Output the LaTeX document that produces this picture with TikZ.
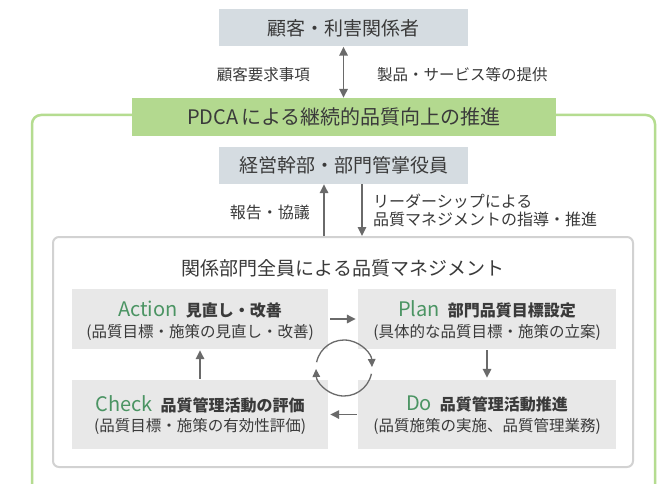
\documentclass[tikz,border=0pt]{standalone}
\usepackage{fontspec}
\setmainfont{Noto Sans CJK JP}
\usetikzlibrary{arrows.meta,calc}
\definecolor{txt}{HTML}{3A3A3A}
\definecolor{topgray}{HTML}{D5DCE1}
\definecolor{boxgray}{HTML}{E8E8E8}
\definecolor{bandgreen}{HTML}{B3D98F}
\definecolor{linegreen}{HTML}{B5DC90}
\definecolor{innerline}{HTML}{D2D2D2}
\definecolor{arrowgray}{HTML}{6A6A6A}
\definecolor{pdcagreen}{HTML}{4B9463}
\newcommand{\myfs}[1]{\fontsize{#1pt}{#1pt}\selectfont}
\newcommand{\pgr}[1]{{\color{pdcagreen}\myfs{20}#1}}
\newcommand{\bttl}[1]{{\bfseries\myfs{16}#1}}
\begin{document}
\begin{tikzpicture}[x=1pt,y=-1pt,
  lbl/.style={text=txt, inner sep=0pt},
  greybox/.style={fill=topgray, minimum width=249pt, minimum height=37pt, inner sep=0pt, text=txt, font=\myfs{19}},
  pbox/.style={fill=boxgray, minimum width=256pt, inner sep=0pt},
  subt/.style={lbl, font=\myfs{15.5}},
  arr/.style={draw=arrowgray, line width=1.6pt, -{Triangle[length=9pt,width=8.5pt]}},
  carr/.style={draw=arrowgray, line width=1.3pt, -{Triangle[length=8pt,width=7.5pt]}}]
\useasboundingbox (0,0) rectangle (669,484);
\fill[white] (0,0) rectangle (669,484);
% green outline
\draw[linegreen, line width=2.5pt, rounded corners=9pt] (32,484) -- (32,115) -- (655,115) -- (655,484);
% top
\node[greybox] (cust) at (343.5,28) {顧客・利害関係者};
\node[fill=bandgreen, minimum width=424pt, minimum height=38pt, inner sep=0pt, text=txt, font=\myfs{20}] (band) at (344,117) {PDCA\hspace{3pt}による継続的品質向上の推進};
\draw[arr, {Triangle[length=9pt,width=8.5pt]}-{Triangle[length=9pt,width=8.5pt]}] (cust.south) -- (cust.south |- band.north);
\node[lbl, anchor=east, font=\myfs{15.5}] (req) at (310,75) {顧客要求事項};
\node[lbl, anchor=west, font=\myfs{15.5}] (prov) at (377,75) {製品・サービス等の提供};
% management
\node[greybox] (mgmt) at (343.5,165.5) {経営幹部・部門管掌役員};
\node[draw=innerline, line width=2pt, fill=white, rounded corners=6pt, minimum width=580pt, minimum height=230pt, inner sep=0pt] (inner) at (343,352) {};
\coordinate (upx) at (324,0);
\coordinate (dnx) at (362,0);
\draw[arr] (inner.north -| upx) -- (mgmt.south -| upx);
\draw[arr] (mgmt.south -| dnx) -- (inner.north -| dnx);
\node[lbl, anchor=east, font=\myfs{16}] (rep) at (310,212) {報告・協議};
\node[lbl, anchor=west, align=left, font=\fontsize{16pt}{17.5pt}\selectfont] (lead) at (373,210.5) {リーダーシップによる\\品質マネジメントの指導・推進};
\node[lbl, font=\myfs{19}] (ttl) at (343,268) {関係部門全員による品質マネジメント};
% PDCA boxes
\node[pbox, minimum height=60pt] (act) at (200,319) {};
\node[pbox, minimum width=258pt, minimum height=60pt] (plan) at (487,319) {};
\node[pbox, minimum height=69pt] (chk) at (200,414.5) {};
\node[pbox, minimum width=258pt, minimum height=69pt] (do) at (487,414.5) {};
\node[lbl] (actT) at (200,309.5) {\pgr{Action}\hspace{8pt}\bttl{見直し・改善}};
\node[subt] (actS) at (200,332) {(品質目標・施策の見直し・改善)};
\node[lbl] (planT) at (487,309.5) {\pgr{Plan}\hspace{8pt}\bttl{部門品質目標設定}};
\node[subt] (planS) at (487,332) {(具体的な品質目標・施策の立案)};
\node[lbl] (chkT) at (200,404) {\pgr{Check}\hspace{8pt}\bttl{品質管理活動の評価}};
\node[subt] (chkS) at (200,426) {(品質目標・施策の有効性評価)};
\node[lbl] (doT) at (487,404) {\pgr{Do}\hspace{8pt}\bttl{品質管理活動推進}};
\node[subt] (doS) at (487,426) {(品質施策の実施、品質管理業務)};
% arrows between boxes
\draw[arr, shorten <=2pt, shorten >=2pt] (act.east) -- (plan.west);
\draw[arr, shorten <=1pt, shorten >=2pt] (plan.south) -- (do.north);
\draw[arr, shorten <=1pt, shorten >=2pt] (do.west) -- (chk.east);
\draw[arr, shorten <=1pt, shorten >=1pt] (chk.north) -- (act.south);
% cycle
\coordinate (cyc) at (344,368);
\begin{scope}[shift={(cyc)}, x=1pt, y=1pt]
\draw[carr] (168:28) arc[start angle=168, end angle=2, radius=28];
\draw[carr] (-12:28) arc[start angle=-12, end angle=-178, radius=28];
\end{scope}
\end{tikzpicture}
\end{document}
